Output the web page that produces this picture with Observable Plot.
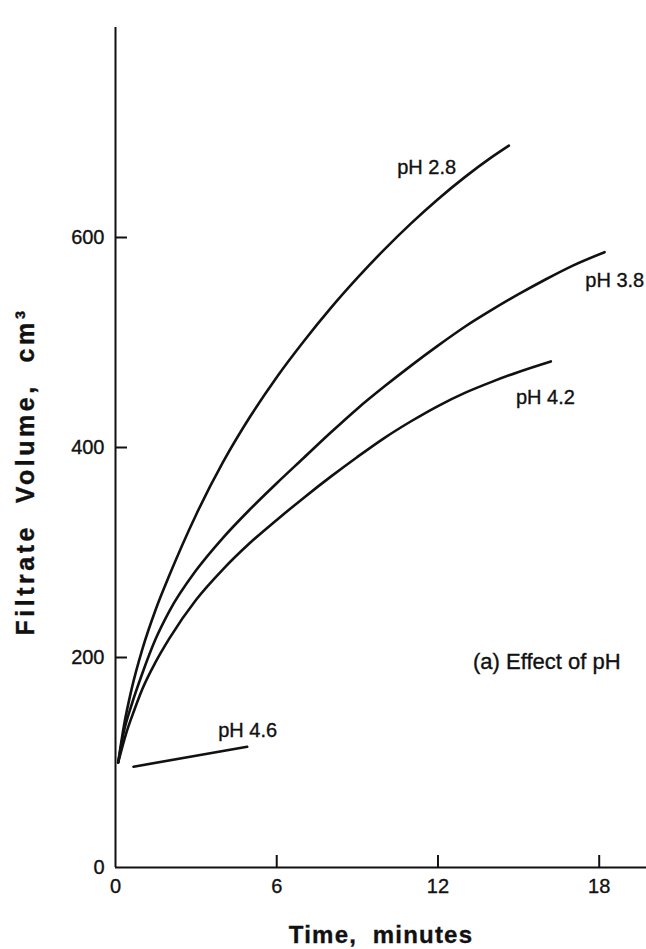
<!DOCTYPE html>
<html><head><meta charset="utf-8">
<script src="https://cdn.jsdelivr.net/npm/d3@7"></script>
<script src="https://cdn.jsdelivr.net/npm/@observablehq/plot@0.6"></script>
<style>body{margin:0;background:#fff;} svg text{stroke:#111;stroke-width:0.35px;}</style>
</head><body><div id="chart"></div>
<script>
// Series: time (minutes) and filtrate volume (cm3)
const time28 = [0.1, 0.3, 0.6, 1, 1.5, 2, 3, 4, 5, 6, 7, 8, 9, 10, 11, 12, 13, 14, 14.64];
const vol28  = [100, 133, 170, 208, 246, 278, 336, 386, 429, 467, 501, 532.5, 561.5, 588.5, 613.5, 636.5, 657.5, 676.5, 687.5];
const time38 = [0.1, 0.3, 0.6, 1, 1.5, 2, 3, 4, 5, 6, 7, 8, 9, 10, 11, 12, 13, 14, 15, 16, 17, 18.2];
const vol38  = [100, 128, 155, 185, 218, 244, 283, 314, 341, 366, 390, 414, 437, 458, 478, 497, 515, 531, 546, 560, 573, 586];
const time42 = [0.1, 0.4, 0.7, 1, 1.5, 2, 3, 4, 5, 6, 7, 8, 9, 10, 11, 12, 13, 14, 15, 16.2];
const vol42  = [100, 128, 150, 170, 196, 218, 255, 284, 309, 331, 352, 372, 391, 409, 425, 439.5, 452, 462.5, 472, 482];
const time46 = [0.67, 4.9];
const vol46  = [96, 115];

const seriesNames = ["pH 2.8", "pH 3.8", "pH 4.2", "pH 4.6"];
const labelTime = [11.58, 18.58, 16.0, 4.92];
const labelVol  = [667, 559, 448, 130];

const noteText = ["(a) Effect of pH"];
const noteTime = [16.05];
const noteVol  = [196];

const xTicks = [0, 6, 12, 18];
const yTicks = [0, 200, 400, 600];
const xTickMarks = [6, 12, 18];
const yTickMarks = [200, 400, 600];
const xMax = 19.76;
const yMax = 800;
const xLabel = "Time,  minutes";
const yLabel = "Filtrate  Volume,  cm³";

const rows = [];
[[time28, vol28], [time38, vol38], [time42, vol42], [time46, vol46]].forEach(([ts, vs], k) => {
  ts.forEach((t, i) => rows.push({series: seriesNames[k], t, v: vs[i]}));
});
const labels = seriesNames.map((s, i) => ({label: s, t: labelTime[i], v: labelVol[i]}));
const notes = noteText.map((s, i) => ({label: s, t: noteTime[i], v: noteVol[i]}));

const chart = Plot.plot({
  width: 646, height: 949,
  marginLeft: 115, marginRight: 0, marginTop: 27, marginBottom: 82,
  x: {domain: [0, xMax]},
  y: {domain: [0, yMax]},
  style: {fontFamily: "'Liberation Sans', Arial, sans-serif", fontSize: "20px", color: "#111", background: "#fff"},
  marks: [
    Plot.axisX(xTicks, {tickSize: 0, tickPadding: 11, label: null, fontSize: 20}),
    Plot.axisY(yTicks, {tickSize: 0, tickPadding: 11, label: null, fontSize: 20}),
    Plot.ruleY([0], {stroke: "#111", strokeWidth: 2}),
    Plot.ruleX([0], {y1: 0, y2: yMax, stroke: "#111", strokeWidth: 2}),
    Plot.ruleY(yTickMarks, {x1: 0, x2: 0, insetLeft: 12, stroke: "#111", strokeWidth: 2}),
    Plot.ruleX(xTickMarks, {y1: 0, y2: 0, insetBottom: 12, stroke: "#111", strokeWidth: 2}),
    Plot.line(rows, {x: "t", y: "v", z: "series", curve: "monotone-x", stroke: "#111", strokeWidth: 2.6}),
    Plot.text(labels, {x: "t", y: "v", text: "label", fontSize: 20, fill: "#111"}),
    Plot.text(notes, {x: "t", y: "v", text: "label", fontSize: 22, fill: "#111"}),
    Plot.text([xLabel], {frameAnchor: "bottom", textAnchor: "middle", dy: 75, text: d => d, fontSize: 24, fontWeight: "bold", fill: "#111"}),
    Plot.text([yLabel], {frameAnchor: "left", textAnchor: "middle", rotate: -90, dx: -90, dy: 24, text: d => d, fontSize: 25, fontWeight: "bold", fill: "#111"})
  ]
});
chart.querySelectorAll("text").forEach(t => {
  if (t.textContent === yLabel) t.style.letterSpacing = "3.5px";
  if (t.textContent === xLabel) t.style.letterSpacing = "1.2px";
});
document.getElementById("chart").appendChild(chart);
</script>
</body></html>
